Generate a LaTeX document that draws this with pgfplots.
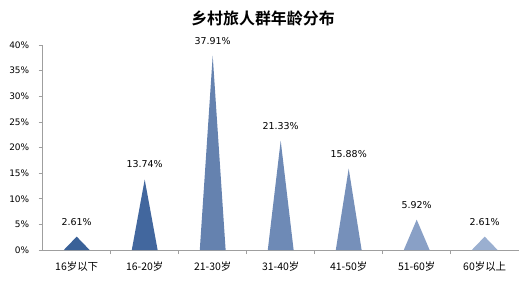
\documentclass[border=0pt]{standalone}
\usepackage{pgfplots}
\pgfplotsset{compat=1.18}
\usepackage{fontspec}
\setmainfont{DejaVu Sans}
\newfontfamily\cjk{Noto Sans CJK SC}
\newfontfamily\cjkb{Noto Sans CJK SC Bold}

\definecolor{c1}{HTML}{3A6198}
\definecolor{c2}{HTML}{42679E}
\definecolor{c3}{HTML}{6582AF}
\definecolor{c4}{HTML}{6E8AB6}
\definecolor{c5}{HTML}{7690BA}
\definecolor{c6}{HTML}{89A0C6}
\definecolor{c7}{HTML}{9AAFD0}

% half width of each cone base, in category units
\newcommand{\hw}{0.19}
% triangle at category #1 with height #2 (percent)
\newcommand{\cone}[3]{%
  \addplot[fill=#3, draw=none] coordinates {(#1-\hw,0) (#1,#2) (#1+\hw,0)} -- cycle;
  \node[font=\fontsize{9.5}{11}\selectfont, anchor=south, inner sep=0pt] at (axis cs:#1,#2+2.2) {#2\%};
}

\begin{document}
\begin{tikzpicture}[x=1bp,y=1bp]
\path[use as bounding box] (0,0) rectangle (529,280);
\begin{axis}[
  at={(42.7bp,30bp)}, anchor=south west,
  width=476bp, height=205bp, scale only axis,
  xmin=-0.5, xmax=6.5, ymin=0, ymax=40,
  axis x line*=bottom, axis y line*=left,
  axis line style={draw=gray!75, line width=0.6pt},
  xtick={0.5,1.5,...,5.5}, xticklabels={},
  extra x ticks={0,1,2,3,4,5,6},
  extra x tick labels={{\cjk 16岁以下},{\cjk 16-20岁},{\cjk 21-30岁},{\cjk 31-40岁},{\cjk 41-50岁},{\cjk 51-60岁},{\cjk 60岁以上}},
  extra x tick style={major tick length=0pt, tick label style={font=\fontsize{10.5}{12}\selectfont, yshift=-8bp}},
  ytick={0,5,...,40},
  yticklabel={\pgfmathprintnumber{\tick}\%},
  yticklabel style={xshift=-6bp},
  /pgf/number format/assume math mode=true,
  tick label style={font=\fontsize{9}{10}\selectfont, text=black},
  tick align=outside, major tick length=4bp,
  tick style={draw=gray!75, line width=0.6pt},
  clip=false,
]
\cone{0}{2.61}{c1}
\cone{1}{13.74}{c2}
\cone{2}{37.91}{c3}
\cone{3}{21.33}{c4}
\cone{4}{15.88}{c5}
\cone{5}{5.92}{c6}
\cone{6}{2.61}{c7}
\end{axis}
\node[font=\cjkb\fontsize{16}{18}\selectfont] at (263,262) {乡村旅人群年龄分布};
\end{tikzpicture}
\end{document}
